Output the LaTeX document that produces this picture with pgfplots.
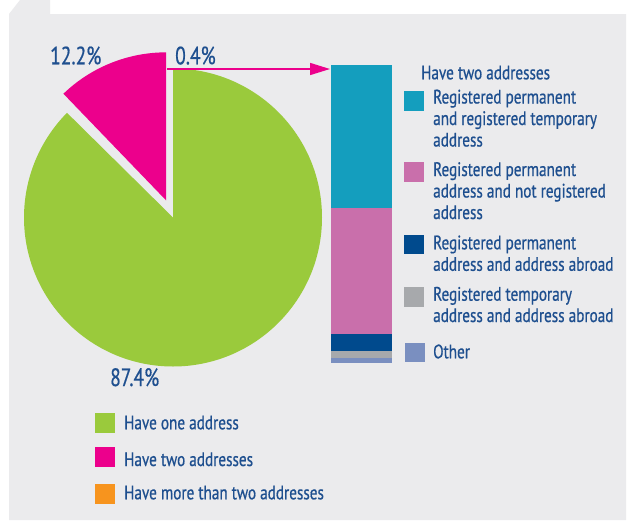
\documentclass[border=0pt]{standalone}
\usepackage{fontspec}
\setmainfont{PT Sans}[FakeStretch=0.78, FakeBold=0.6]
\usepackage{pgfplots}
\pgfplotsset{compat=1.18}
\usetikzlibrary{arrows.meta}
\definecolor{bgc}{HTML}{EBEBED}
\definecolor{cgreen}{HTML}{9ACA3C}
\definecolor{cpink}{HTML}{EC008C}
\definecolor{corange}{HTML}{F7941E}
\definecolor{cteal}{HTML}{149EBE}
\definecolor{cmauve}{HTML}{C96FAB}
\definecolor{cdblue}{HTML}{004A8D}
\definecolor{cgray}{HTML}{A7A9AC}
\definecolor{cother}{HTML}{7A8FC0}
\definecolor{txt}{HTML}{1E4F8F}
% pie shares (%)
\def\vOne{87.4}
\def\vTwo{12.2}
\def\vMore{0.4}
\begin{document}
\begin{tikzpicture}
\begin{axis}[at={(0,0)}, anchor=south west,
  width=627pt, height=520pt, scale only axis,
  xmin=0, xmax=627, ymin=0, ymax=520, y dir=reverse,
  hide axis, clip=false]
% background
\fill[white] (axis cs:0,0) rectangle (axis cs:627,520);
\fill[bgc] (axis cs:9,520) -- (axis cs:9,14) -- (axis cs:20,0) -- (axis cs:50,0) -- (axis cs:50,14) -- (axis cs:626,14) -- (axis cs:626,520) -- cycle;
% pie
\pgfmathsetmacro{\aOne}{\vOne*3.6}
\pgfmathsetmacro{\aTwo}{\vTwo*3.6}
\pgfmathsetmacro{\mid}{90+\aTwo/2}
\fill[cgreen] (axis cs:173,217.5) -- ++(90:149pt) arc[start angle=90, end angle={90-\aOne}, radius=149pt] -- cycle;
\path (axis cs:173,217.5) ++(\mid:18.5pt) coordinate (pc);
\fill[cpink] (pc) -- ++(90:148pt) arc[start angle=90, end angle={90+\aTwo}, radius=148pt] -- cycle;
% arrow
\draw[cpink, line width=1.5pt, -{Triangle[length=20pt,width=12pt]}] (axis cs:167,69) -- (axis cs:330,69);
% pie labels
\node[anchor=base west, inner sep=0, text=txt, font=\fontsize{25}{25}\selectfont] at (axis cs:50,64.3) {12.2\%};
\node[anchor=base west, inner sep=0, text=txt, font=\fontsize{25}{25}\selectfont] at (axis cs:175,64.3) {0.4\%};
\node[anchor=base west, inner sep=0, text=txt, font=\fontsize{25}{25}\selectfont] at (axis cs:110,386) {87.4\%};
% bar labels
\node[anchor=base west, inner sep=0, text=white, font=\fontsize{24}{24}\selectfont] at (axis cs:343,148.3) {5.9\%};
\node[anchor=base west, inner sep=0, text=white, font=\fontsize{24}{24}\selectfont] at (axis cs:345,285) {5.2\%};
% bar legend
\tikzset{lt/.style={anchor=base west, inner sep=0, text=txt, font=\fontsize{19.5}{21}\selectfont}}
\node[lt] at (axis cs:421,79.3) {Have two addresses};
\fill[cteal] (axis cs:404,90.7) rectangle (axis cs:424,110.7);
\node[lt] at (axis cs:433,103.5) {Registered permanent};
\node[lt] at (axis cs:433,125) {and registered temporary};
\node[lt] at (axis cs:433,146.5) {address};
\fill[cmauve] (axis cs:404,162.3) rectangle (axis cs:424,181.7);
\node[lt] at (axis cs:433,176) {Registered permanent};
\node[lt] at (axis cs:433,197.5) {address and not registered};
\node[lt] at (axis cs:433,219) {address};
\fill[cdblue] (axis cs:404,235) rectangle (axis cs:424,254);
\node[lt] at (axis cs:433,249.3) {Registered permanent};
\node[lt] at (axis cs:433,270.8) {address and address abroad};
\fill[cgray] (axis cs:404,287.3) rectangle (axis cs:424,306.7);
\node[lt] at (axis cs:433,300.7) {Registered temporary};
\node[lt] at (axis cs:433,322) {address and address abroad};
\fill[cother] (axis cs:405,342.7) rectangle (axis cs:425,361.7);
\node[lt] at (axis cs:433,358.3) {Other};
% pie legend
\fill[cgreen] (axis cs:95,412.7) rectangle (axis cs:115,432.7);
\node[lt] at (axis cs:124,429.3) {Have one address};
\fill[cpink] (axis cs:95,446.7) rectangle (axis cs:115,466.7);
\node[lt] at (axis cs:124,466) {Have two addresses};
\fill[corange] (axis cs:95,484) rectangle (axis cs:115,504);
\node[lt] at (axis cs:124,499.3) {Have more than two addresses};
\coordinate (barbase) at (axis cs:331,362.7);
\end{axis}
% stacked bar: breakdown of "have two addresses"
\begin{axis}[at={(barbase)}, anchor=south west,
  width=61pt, height=297.7pt, scale only axis,
  xmin=-0.5, xmax=0.5, ymin=0, ymax=12.3,
  ybar stacked, bar width=61pt, hide axis, clip=false]
\addplot[fill=cother, draw=none] coordinates {(0,0.2)};
\addplot[fill=cgray, draw=none] coordinates {(0,0.3)};
\addplot[fill=cdblue, draw=none] coordinates {(0,0.7)};
\addplot[fill=cmauve, draw=none] coordinates {(0,5.2)};
\addplot[fill=cteal, draw=none] coordinates {(0,5.9)};
\end{axis}
\end{tikzpicture}
\end{document}
